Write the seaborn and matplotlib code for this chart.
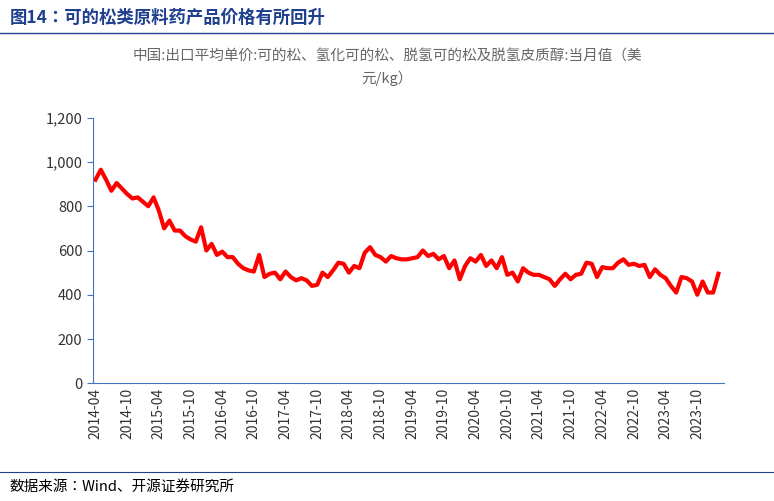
import pandas as pd
import numpy as np
import matplotlib.pyplot as plt
from matplotlib import font_manager
import seaborn as sns

names = {f.name for f in font_manager.fontManager.ttflist}
cjk = [n for n in ['Noto Sans CJK SC', 'Noto Sans CJK JP', 'Noto Sans CJK TC',
                   'Noto Sans CJK KR'] if n in names]
if not cjk:
    cjk = [f.name for f in font_manager.fontManager.ttflist if 'CJK' in f.name][:1]
plt.rcParams['font.family'] = 'sans-serif'
plt.rcParams['font.sans-serif'] = cjk + ['DejaVu Sans']
plt.rcParams['axes.unicode_minus'] = False

# monthly export price, USD/kg, 2014-04 .. 2024-02
prices = [
    920, 965, 920, 870, 905, 880, 855, 835, 840, 820, 800, 840,
    780, 700, 735, 690, 690, 665, 650, 640, 705, 600, 630, 580,
    595, 570, 570, 540, 520, 510, 505, 580, 480, 495, 500, 470,
    505, 480, 465, 475, 465, 440, 445, 500, 480, 510, 545, 540,
    500, 530, 520, 590, 615, 580, 570, 550, 575, 565, 560, 560,
    565, 570, 600, 575, 585, 560, 575, 520, 555, 470, 530, 565,
    550, 580, 530, 555, 520, 570, 490, 500, 460, 520, 500, 490,
    490, 480, 470, 440, 470, 495, 470, 490, 495, 545, 540, 480,
    525, 520, 520, 545, 560, 535, 540, 530, 535, 480, 515, 490,
    475, 440, 410, 480, 475, 460, 400, 460, 410, 410, 495,
]
months = pd.period_range('2014-04', periods=len(prices), freq='M').strftime('%Y-%m')
df = pd.DataFrame({'idx': np.arange(len(prices)), 'price': prices})
tick_labels = list(months[::6])

fig = plt.figure(figsize=(7.74, 5.01), dpi=100)
fig.text(0.012, 0.965, '图14：可的松类原料药产品价格有所回升', fontsize=12.5,
         fontweight='bold', color='#1f3f8f', va='center')
fig.add_artist(plt.Line2D([0.0, 1.0], [0.935, 0.935], color='#1f3f8f', lw=1))
fig.add_artist(plt.Line2D([0.0, 1.0], [0.058, 0.058], color='#1f3f8f', lw=0.8))
fig.text(0.012, 0.028, '数据来源：Wind、开源证券研究所', fontsize=10.5, va='center')

ax = fig.add_axes([0.12, 0.235, 0.815, 0.53])
sns.lineplot(data=df, x='idx', y='price', ax=ax, color='#ff0000', lw=3)
ax.set_xlim(-0.5, len(prices))
ax.set_ylim(0, 1200)
ax.set_yticks(range(0, 1201, 200))
ax.set_yticklabels([f'{v:,}' for v in range(0, 1201, 200)], fontsize=10.5, color='#333333')
ax.set_xticks(np.arange(0, len(prices), 6))
ax.set_xticklabels(tick_labels, rotation=90, fontsize=10, color='#333333')
ax.set_xlabel('')
ax.set_ylabel('')
for s in ['top', 'right']:
    ax.spines[s].set_visible(False)
ax.spines['left'].set_color('#4472c4')
ax.spines['bottom'].set_color('#4472c4')
ax.tick_params(axis='y', color='#4472c4', length=4)
ax.tick_params(axis='x', length=0)
fig.text(0.5, 0.88, '中国:出口平均单价:可的松、氢化可的松、脱氢可的松及脱氢皮质醇:当月值（美',
         ha='center', fontsize=10.5, color='#666666')
fig.text(0.5, 0.835, '元/kg）', ha='center', fontsize=10.5, color='#666666')

fig.savefig('out.png', dpi=100)
